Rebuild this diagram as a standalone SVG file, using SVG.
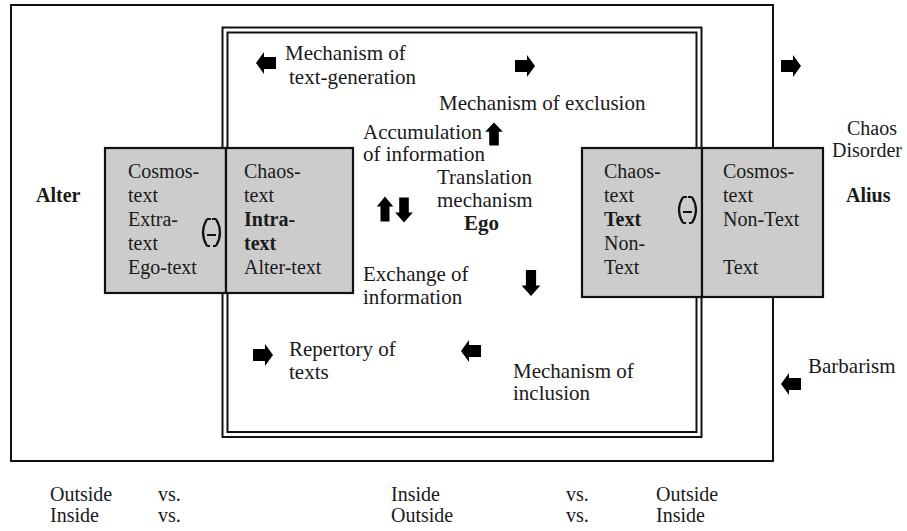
<svg xmlns="http://www.w3.org/2000/svg" xmlns:xlink="http://www.w3.org/1999/xlink" width="907" height="531" viewBox="0 0 907 531">
<style>
text{font-family:'Liberation Serif','DejaVu Serif',serif;font-size:20px;fill:#1a1a1a}
.l{font-size:21px}
.b{font-weight:bold}
.frame{fill:none;stroke:#111;stroke-width:2}
.box{fill:#cccccc;stroke:#111;stroke-width:2.2}
.sym{fill:none;stroke:#111;stroke-width:2.2}
.arr{fill:#000}
</style>
<defs>
<path id="ar" d="M-10,-6H2V-11L10,0L2,11V6H-10Z"/>
</defs>
<rect width="907" height="531" fill="#fff"/>
<g id="outer-frame">
<rect class="frame" x="11" y="5" width="762" height="456"/>
</g>
<g id="inner-frame">
<rect class="frame" x="222.5" y="27.5" width="479" height="409.5"/>
<rect class="frame" x="227.5" y="32.5" width="469" height="399.5" stroke-width="1.8"/>
</g>
<g id="node-alter-boxes">
<rect class="box" x="105" y="148" width="121" height="145"/>
<rect class="box" x="226" y="148" width="127" height="145"/>
<text x="128" y="178">Cosmos-</text>
<text x="128" y="202">text</text>
<text x="128" y="226">Extra-</text>
<text x="128" y="250">text</text>
<text x="128" y="274">Ego-text</text>
<text x="244" y="178">Chaos-</text>
<text x="244" y="202">text</text>
<text x="244" y="226" class="b">Intra-</text>
<text x="244" y="250" class="b">text</text>
<text x="244" y="274">Alter-text</text>
<path class="sym" d="M207,219Q199,232.5 207,246M216,219Q224,232.5 216,246M207,219H211M212,219H216M207,246H210M213,246H216M207,235H216"/>
</g>
<g id="node-alius-boxes">
<rect class="box" x="582" y="148" width="120" height="149"/>
<rect class="box" x="702" y="148" width="121" height="149"/>
<text x="604" y="178">Chaos-</text>
<text x="604" y="202">text</text>
<text x="604" y="226" class="b">Text</text>
<text x="604" y="250">Non-</text>
<text x="604" y="274">Text</text>
<text x="723" y="178">Cosmos-</text>
<text x="723" y="202">text</text>
<text x="723" y="226">Non-Text</text>
<text x="723" y="274">Text</text>
<path class="sym" d="M683,197Q675,210 683,223M692,197Q700,210 692,223M683,197H687M688,197H692M683,223H686M689,223H692M683,212H692"/>
</g>
<g id="node-alter"><text x="36" y="202" class="b">Alter</text></g>
<g id="node-alius"><text x="846" y="202" class="b">Alius</text></g>
<g id="node-text-generation">
<text class="l" x="285" y="60">Mechanism of</text>
<text class="l" x="289" y="84">text-generation</text>
</g>
<g id="node-exclusion"><text class="l" x="439" y="110">Mechanism of exclusion</text></g>
<g id="node-chaos">
<text x="847" y="135">Chaos</text>
<text x="832" y="157">Disorder</text>
</g>
<g id="node-accumulation">
<text class="l" x="363" y="139">Accumulation</text>
<text class="l" x="363" y="161">of information</text>
</g>
<g id="node-translation">
<text class="l" x="437" y="184">Translation</text>
<text class="l" x="437" y="207">mechanism</text>
<text class="l b" x="464" y="230">Ego</text>
</g>
<g id="node-exchange">
<text class="l" x="363" y="281">Exchange of</text>
<text class="l" x="363" y="304">information</text>
</g>
<g id="node-repertory">
<text class="l" x="289" y="356">Repertory of</text>
<text class="l" x="289" y="379">texts</text>
</g>
<g id="node-inclusion">
<text class="l" x="513" y="378">Mechanism of</text>
<text class="l" x="513" y="400">inclusion</text>
</g>
<g id="node-barbarism"><text class="l" x="808" y="373">Barbarism</text></g>
<g id="node-bottom">
<text x="50" y="501">Outside</text>
<text x="158" y="501">vs.</text>
<text x="391" y="501">Inside</text>
<text x="566" y="501">vs.</text>
<text x="656" y="501">Outside</text>
<text x="50" y="522">Inside</text>
<text x="158" y="522">vs.</text>
<text x="391" y="522">Outside</text>
<text x="566" y="522">vs.</text>
<text x="656" y="522">Inside</text>
</g>
<g id="connectors" class="arr">
<use xlink:href="#ar" transform="translate(266,63) rotate(180)"/>
<use xlink:href="#ar" transform="translate(525,66)"/>
<use xlink:href="#ar" transform="translate(791,66)"/>
<use xlink:href="#ar" transform="translate(494,134) rotate(-90) scale(1.15,0.8)"/>
<use xlink:href="#ar" transform="translate(385,209) rotate(-90) scale(1.25,0.75)"/>
<use xlink:href="#ar" transform="translate(404,210) rotate(90) scale(1.25,0.8)"/>
<use xlink:href="#ar" transform="translate(531,283) rotate(90) scale(1.3,0.85)"/>
<use xlink:href="#ar" transform="translate(263,355)"/>
<use xlink:href="#ar" transform="translate(471,351) rotate(180)"/>
<use xlink:href="#ar" transform="translate(791,384) rotate(180)"/>
</g>
</svg>
